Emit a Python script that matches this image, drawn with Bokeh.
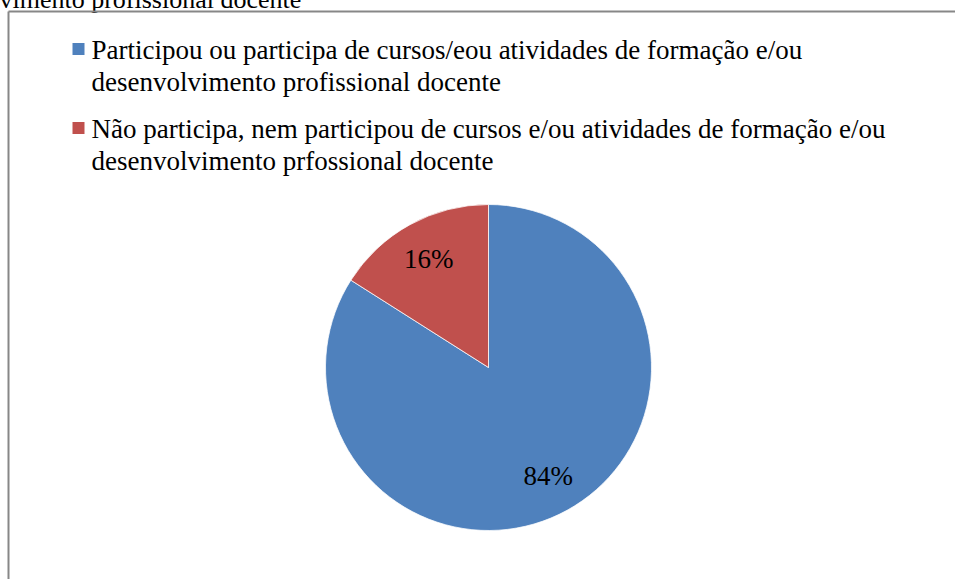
import math
from bokeh.plotting import figure
from bokeh.models import Range1d, ColumnDataSource
from bokeh.core.properties import value
from bokeh.embed import file_html
from bokeh.resources import INLINE

# ---- data ----
categories = [
    "Participou ou participa de cursos/eou atividades de formação e/ou desenvolvimento profissional docente",
    "Não participa, nem participou de cursos e/ou atividades de formação e/ou desenvolvimento prfossional docente",
]
legend_lines = [
    ["Participou ou participa de cursos/eou atividades de formação e/ou",
     "desenvolvimento profissional docente"],
    ["Não participa, nem participou de cursos e/ou atividades de formação e/ou",
     "desenvolvimento prfossional docente"],
]
values = [84, 16]
labels = ["84%", "16%"]
colors = ["#4F81BD", "#C0504D"]
title_fragment = "vimento profissional docente"

W, H = 963, 587
OFF = 8  # figure origin sits 8px left/above the page corner
FONT = "Liberation Serif"

p = figure(width=W, height=H, output_backend="svg", toolbar_location=None,
           x_range=Range1d(-OFF, W - OFF), y_range=Range1d(-(H - OFF), OFF),
           min_border=0, outline_line_color=None)
p.margin = (-8, 0, 0, -8)
p.axis.visible = False
p.grid.visible = False
p.background_fill_color = "white"
p.border_fill_color = "white"

# cropped title fragment
p.text(x=[-1], y=[1], text=[title_fragment], text_font=value(FONT),
       text_font_size="26px", text_color="black", text_baseline="alphabetic",
       text_align="left")

# chart box border (cropped on right/bottom)
p.segment(x0=[8, 8], y0=[-11, -11], x1=[8, 970], y1=[-600, -11],
          line_color="#878787", line_width=2)

# legend
lx, ly0, gap, lh = 78, 48.5, 79, 32
for i, (lines, col) in enumerate(zip(legend_lines, colors)):
    yc = ly0 + i * gap
    p.scatter(x=[lx], y=[-yc], marker="square", size=12, fill_color=col,
              line_color=None)
    p.text(x=[91, 91], y=[-(yc + 1), -(yc + 1 + lh)], text=lines,
           text_font=value(FONT), text_font_size="27px", text_color="black",
           text_baseline="alphabetic", text_align="left")

# pie
cx, cy, R = 488, -367, 163
total = sum(values)
starts, ends, lxs, lys = [], [], [], []
a = math.pi / 2
for v in values:
    sweep = 2 * math.pi * v / total
    starts.append(a)
    ends.append(a - sweep)
    mid = a - sweep / 2
    lxs.append(cx + 0.76 * R * math.cos(mid))
    lys.append(cy + 0.76 * R * math.sin(mid))
    a -= sweep

src = ColumnDataSource(dict(start=starts, end=ends, color=colors,
                            lx=lxs, ly=lys, label=labels))
p.wedge(x=cx, y=cy, radius=R, start_angle="start", end_angle="end",
        direction="clock", fill_color="color", line_color="white",
        line_width=0.75, source=src)
p.text(x="lx", y="ly", text="label", text_font=value(FONT),
       text_font_size="27px", text_color="black", text_align="center",
       text_baseline="middle", source=src)

open("out.html", "w").write(file_html(p, INLINE))
